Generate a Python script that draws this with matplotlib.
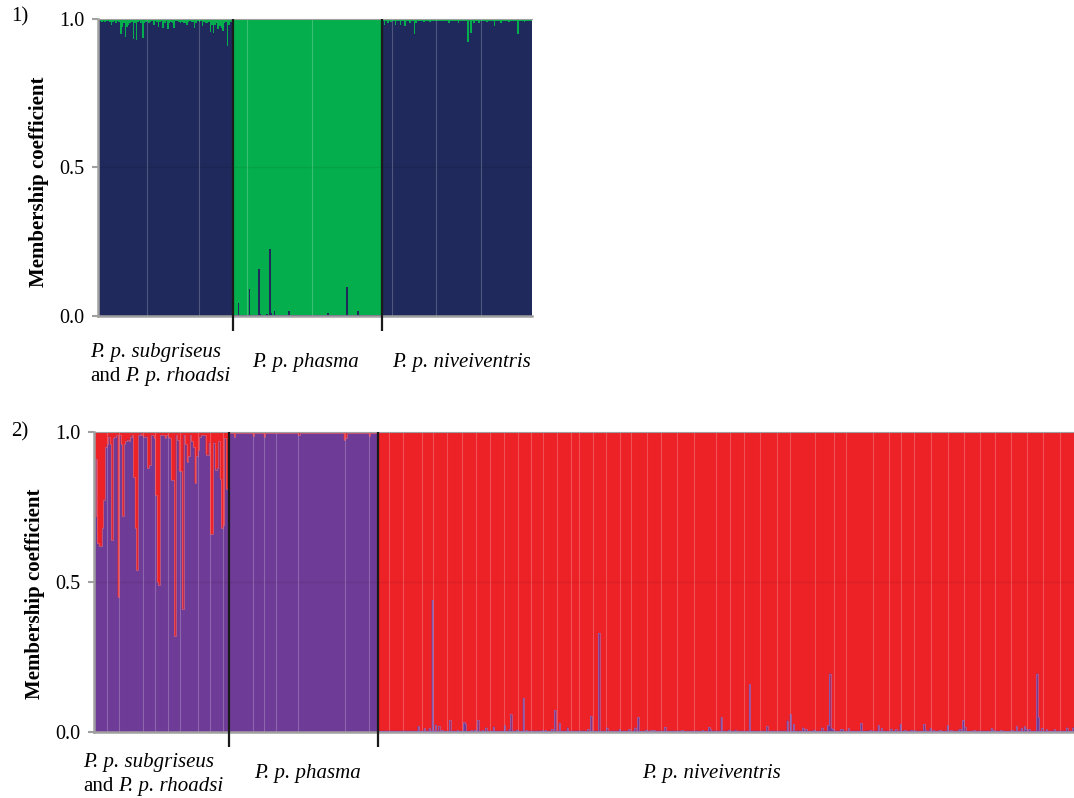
import matplotlib
matplotlib.use("Agg")
import matplotlib.pyplot as plt
import numpy as np

plt.rcParams['font.family'] = ['Liberation Serif', 'DejaVu Serif']

NAVY = '#1f295b'
GREEN = '#05ae4c'
PURPLE = '#6e3b96'
RED = '#ec2227'

yticks = [0.0, 0.5, 1.0]
ytick_labels = ["0.0", "0.5", "1.0"]
group1_line1 = "P. p. subgriseus"
group1_and = "and"
group1_line2 = "P. p. rhoadsi"
group2_label = "P. p. phasma"
group3_label = "P. p. niveiventris"

# ---------------- Panel 1 (K=2: navy / green) ----------------
p1_sizes = [86, 95, 95]
# group 1: green proportion (drips from top)
p1_g1_green = [0.005, 0.008, 0.01, 0.008, 0.01, 0.008, 0.006, 0.01, 0.02, 0.01,
               0.008, 0.013, 0.008, 0.01, 0.05, 0.027, 0.012, 0.06, 0.027, 0.02,
               0.015, 0.01, 0.066, 0.012, 0.072, 0.01, 0.008, 0.012, 0.065, 0.015,
               0.01, 0.007, 0.015, 0.01, 0.008, 0.02, 0.008, 0.01, 0.027, 0.01,
               0.008, 0.03, 0.012, 0.008, 0.035, 0.015, 0.01, 0.012, 0.03, 0.008,
               0.006, 0.01, 0.012, 0.01, 0.012, 0.015, 0.02, 0.01, 0.008, 0.01,
               0.01, 0.03, 0.015, 0.008, 0.01, 0.008, 0.025, 0.01, 0.012, 0.015,
               0.01, 0.045, 0.02, 0.046, 0.02, 0.015, 0.035, 0.025, 0.03, 0.04,
               0.015, 0.01, 0.09, 0.02, 0.01, 0.008]
# group 2: navy proportion (spikes from bottom)
p1_g2_navy_base = 0.002
p1_g2_navy = {3: 0.045, 10: 0.09, 16: 0.157, 17: 0.006, 21: 0.007, 23: 0.227,
              24: 0.01, 26: 0.018, 35: 0.016, 60: 0.009, 67: 0.005, 72: 0.097, 79: 0.018}
# group 3: green proportion
p1_g3_green_base = 0.007
p1_g3_green = {1: 0.02, 3: 0.012, 5: 0.01, 8: 0.02, 11: 0.021, 14: 0.022, 17: 0.012,
               20: 0.05, 21: 0.015, 26: 0.01, 30: 0.01, 42: 0.012, 48: 0.012, 54: 0.076,
               56: 0.046, 58: 0.013, 61: 0.015, 66: 0.01, 71: 0.022, 75: 0.012, 80: 0.01,
               86: 0.052, 90: 0.01}
p1_separators = [[31, 64], [9, 50], [6, 34, 63]]

# ---------------- Panel 2 (K=2: purple / red) ----------------
p2_sizes = [86, 95, 443]
p2_g1_red = [0.28, 0.09, 0.37, 0.38, 0.38, 0.32, 0.225, 0.05, 0.04, 0.015,
             0.04, 0.36, 0.02, 0.015, 0.01, 0.55, 0.01, 0.04, 0.28, 0.04,
             0.03, 0.025, 0.03, 0.015, 0.01, 0.15, 0.32, 0.46, 0.01, 0.005,
             0.01, 0.015, 0.015, 0.015, 0.12, 0.11, 0.01, 0.01, 0.02, 0.21,
             0.50, 0.51, 0.01, 0.01, 0.01, 0.02, 0.01, 0.015, 0.02, 0.16,
             0.16, 0.68, 0.01, 0.025, 0.13, 0.13, 0.59, 0.01, 0.04, 0.10,
             0.08, 0.01, 0.03, 0.05, 0.17, 0.08, 0.06, 0.015, 0.01, 0.01,
             0.01, 0.075, 0.075, 0.035, 0.34, 0.34, 0.035, 0.125, 0.12, 0.03,
             0.155, 0.32, 0.31, 0.02, 0.19, 0.19]
p2_g2_red_base = 0.004
p2_g2_red = {3: 0.015, 15: 0.012, 22: 0.015, 44: 0.01, 73: 0.027, 74: 0.02, 89: 0.012}
p2_g3_purple_base = 0.004
p2_g3_purple = {25: 0.02, 29: 0.012, 32: 0.012, 34: 0.44, 36: 0.025, 38: 0.02, 40: 0.006,
                45: 0.04, 50: 0.006, 54: 0.032, 55: 0.028, 59: 0.006, 61: 0.008, 63: 0.04,
                66: 0.006, 68: 0.015, 73: 0.018, 80: 0.022, 83: 0.01, 84: 0.059, 88: 0.008,
                92: 0.113, 94: 0.006, 98: 0.005, 101: 0.005, 104: 0.006, 106: 0.006,
                110: 0.01, 112: 0.073, 115: 0.03, 120: 0.015, 127: 0.005, 130: 0.005,
                133: 0.009, 135: 0.054, 137: 0.005, 140: 0.33, 145: 0.015, 153: 0.009,
                159: 0.009, 163: 0.015, 165: 0.049, 170: 0.008, 173: 0.006, 175: 0.006,
                182: 0.017, 187: 0.005, 191: 0.005, 193: 0.006, 202: 0.005, 206: 0.006,
                210: 0.017, 211: 0.009, 218: 0.049, 223: 0.008, 227: 0.008, 236: 0.159,
                247: 0.019, 256: 0.005, 260: 0.038, 262: 0.059, 264: 0.026, 267: 0.005,
                270: 0.015, 272: 0.009, 277: 0.008, 282: 0.015, 286: 0.023, 287: 0.195,
                288: 0.013, 289: 0.01, 294: 0.009, 295: 0.01, 299: 0.012, 307: 0.029,
                311: 0.005, 313: 0.007, 318: 0.022, 320: 0.013, 326: 0.011, 329: 0.009,
                332: 0.027, 335: 0.006, 339: 0.007, 341: 0.006, 347: 0.026, 348: 0.008,
                351: 0.013, 353: 0.006, 357: 0.006, 362: 0.022, 364: 0.006, 369: 0.007,
                370: 0.011, 372: 0.039, 373: 0.017, 379: 0.006, 382: 0.005, 390: 0.012,
                391: 0.008, 396: 0.006, 403: 0.006, 406: 0.019, 409: 0.014, 411: 0.019,
                412: 0.011, 414: 0.01, 419: 0.195, 420: 0.05, 422: 0.013, 425: 0.009,
                430: 0.009, 438: 0.015, 442: 0.015}
p2_separators = [[8, 16, 31, 39, 47, 55, 66, 74, 82],
                 [15, 22, 30, 44, 74, 89],
                 [7, 16, 28, 35, 44, 53, 62, 71, 80, 89, 97, 105, 114, 123, 128, 137, 145,
                  154, 161, 171, 180, 190, 201, 215, 224, 233, 243, 254, 262, 278, 290, 298,
                  315, 325, 333, 341, 352, 363, 373, 383, 393, 403, 413, 423, 434]]


def sparse(n, base, d):
    arr = np.full(n, base, dtype=float)
    for k, v in d.items():
        arr[k] = v
    return arr


# bottom-cluster proportions per individual
p1_bottom = np.concatenate([1 - np.array(p1_g1_green),
                            sparse(p1_sizes[1], p1_g2_navy_base, p1_g2_navy),
                            1 - sparse(p1_sizes[2], p1_g3_green_base, p1_g3_green)])
p2_bottom = np.concatenate([1 - np.array(p2_g1_red),
                            1 - sparse(p2_sizes[1], p2_g2_red_base, p2_g2_red),
                            sparse(p2_sizes[2], p2_g3_purple_base, p2_g3_purple)])

W, H = 1074, 798
fig = plt.figure(figsize=(W / 100, H / 100), dpi=100)


def px_axes(l, t, r, b):
    return fig.add_axes([l / W, 1 - b / H, (r - l) / W, (b - t) / H])


def draw_panel(ax, bottom_q, sizes, seps, c_bottom, c_top, edge_cols=None):
    n = len(bottom_q)
    edges = np.arange(n + 1)
    ax.stairs(np.ones(n), edges, baseline=0, fill=True, color=c_top, lw=0)
    ax.stairs(bottom_q, edges, baseline=0, fill=True, color=c_bottom, lw=0)
    starts = np.concatenate([[0], np.cumsum(sizes)[:-1]])
    ends = np.cumsum(sizes)
    if edge_cols is not None:
        for s0, s1, ec in zip(starts, ends, edge_cols):
            ax.stairs(bottom_q[s0:s1], edges[s0:s1 + 1], baseline=None, color=ec,
                      lw=0.4, zorder=3)
    ax.set_xlim(0, n)
    ax.set_ylim(0, 1)
    ax.axhline(0.5, color='black', alpha=0.07, lw=1)
    for s0, sl in zip(starts, seps):
        for s in sl:
            ax.axvline(s0 + s, color='white', alpha=0.22, lw=0.8)
    for b in ends[:-1]:
        ax.plot([b, b], [-0.05, 1.0], color='#1a1a1a', lw=1.6, clip_on=False,
                solid_capstyle='butt', zorder=5)
    ax.set_yticks(yticks)
    ax.set_yticklabels(ytick_labels)
    ax.set_xticks([])
    ax.spines['right'].set_visible(False)
    ax.spines['top'].set_color('#a0a0a0')
    ax.spines['top'].set_linewidth(0.8)
    for sp in ['left', 'bottom']:
        ax.spines[sp].set_color('#a0a0a0')
        ax.spines[sp].set_linewidth(1.8)
    ax.tick_params(axis='y', direction='out', length=4, width=1.5, color='#a0a0a0',
                   pad=5.5, labelsize=14.5)


ax1 = px_axes(98, 19, 531.5, 316)
draw_panel(ax1, p1_bottom, p1_sizes, p1_separators, NAVY, GREEN)
ax2 = px_axes(94, 432, 1074, 732)
draw_panel(ax2, p2_bottom, p2_sizes, p2_separators, PURPLE, RED,
           edge_cols=['#f26a6e', '#f26a6e', '#9b78c6'])


def ftext(x, y, s, **kw):
    return fig.text(x / W, 1 - y / H, s, **kw)


fs = 15
renderer = fig.canvas.get_renderer()


def mixed_label(x, y1, y2):
    ftext(x, y1, group1_line1, ha='left', va='baseline', fontsize=fs, fontstyle='italic')
    t = ftext(x, y2, group1_and, ha='left', va='baseline', fontsize=fs)
    bb = t.get_window_extent(renderer)
    space = fs * 100 / 72 * 0.25
    ftext(bb.x1 + space, y2, group1_line2, ha='left', va='baseline', fontsize=fs,
          fontstyle='italic')


# panel numbers
ftext(20, 17, "1)", ha='center', va='center', fontsize=fs)
ftext(20, 432, "2)", ha='center', va='center', fontsize=fs)
# y labels
ftext(39, 182, "Membership coefficient", rotation=90, ha='center', va='center',
      fontsize=fs, fontweight='bold')
ftext(35, 594, "Membership coefficient", rotation=90, ha='center', va='center',
      fontsize=fs, fontweight='bold')
# group labels panel 1
mixed_label(90, 357, 381)
ftext(305, 367, group2_label, ha='center', va='baseline', fontsize=fs, fontstyle='italic')
ftext(461, 367, group3_label, ha='center', va='baseline', fontsize=fs, fontstyle='italic')
# group labels panel 2
mixed_label(83, 767, 791)
ftext(307.5, 778, group2_label, ha='center', va='baseline', fontsize=fs, fontstyle='italic')
ftext(711, 778, group3_label, ha='center', va='baseline', fontsize=fs, fontstyle='italic')

fig.savefig("out.png", dpi=100)
